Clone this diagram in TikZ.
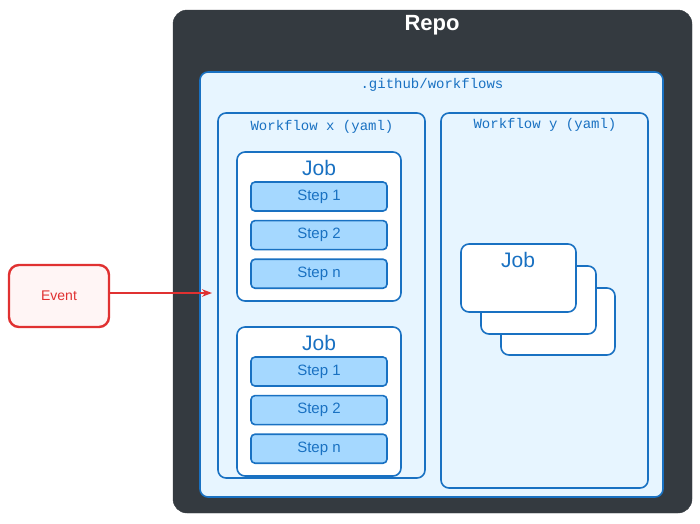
\documentclass[tikz,border=0pt]{standalone}
\usepackage{fontspec}
\setmainfont{Liberation Sans}
\newfontfamily\codefont{Liberation Mono}
\usetikzlibrary{positioning,arrows.meta}
\definecolor{repogray}{HTML}{343A40}
\definecolor{wfblue}{HTML}{1971C2}
\definecolor{wffill}{HTML}{E7F5FF}
\definecolor{stepfill}{HTML}{A5D8FF}
\definecolor{evred}{HTML}{E03131}
\definecolor{evfill}{HTML}{FFF5F5}
\tikzset{
  box/.style={draw=wfblue,line width=1.6pt,rounded corners=8pt,fill=wffill},
  jobbox/.style={draw=wfblue,line width=1.6pt,rounded corners=8pt,fill=white},
  stepbox/.style={draw=wfblue,line width=1.6pt,rounded corners=4pt,fill=stepfill,
    minimum width=136pt,minimum height=29pt,text=wfblue,font=\fontsize{15}{18}\selectfont},
  lbl/.style={text=wfblue,font=\codefont\fontsize{14}{16}\selectfont},
  joblbl/.style={text=wfblue,font=\fontsize{21}{24}\selectfont},
}
\begin{document}
\begin{tikzpicture}[x=1pt,y=-1pt]
\useasboundingbox (0,0) rectangle (700,523);
% repository
\draw[fill=repogray,draw=repogray,rounded corners=14pt] (173,10) rectangle (692,513);
\node[text=white,font=\fontsize{22}{26}\selectfont\bfseries] (repo) at (432,25) {Repo};
\draw[box] (200,72) rectangle (663,497);
\node[lbl] (wfdir) at (432,85) {.github/workflows};
% workflows
\draw[box] (218,113) rectangle (425,478);
\node[lbl] (wfx) at (322,127) {Workflow x (yaml)};
\draw[box] (441,113) rectangle (648,488);
\node[lbl] (wfy) at (545,125) {Workflow y (yaml)};
% jobs of workflow x
\foreach \j/\top in {a/152,b/327}{
  \draw[jobbox] (237,\top) rectangle (401,\top+149);
  \node[joblbl] (job\j) at (319,\top+16) {Job};
  \node[stepbox] (step\j1) at (319,\top+44.5) {Step 1};
  \node[stepbox,below=8pt of step\j1] (step\j2) {Step 2};
  \node[stepbox,below=8pt of step\j2] (step\j3) {Step n};
}
% jobs of workflow y
\draw[jobbox] (501,288) rectangle (615,355);
\draw[jobbox] (481,266) rectangle (596,334);
\draw[jobbox] (461,244) rectangle (576,312);
\node[joblbl] (jobc) at (518,260) {Job};
% event
\node[draw=evred,fill=evfill,line width=2.4pt,rounded corners=10pt,
  minimum width=100pt,minimum height=62pt,text=evred,font=\fontsize{14}{16}\selectfont] (event) at (59,296) {Event};
\coordinate (entry) at (212,293);
\draw[evred,line width=2.2pt,-{Stealth[length=10pt]}] (event.east |- entry) -- (entry);
\end{tikzpicture}
\end{document}
